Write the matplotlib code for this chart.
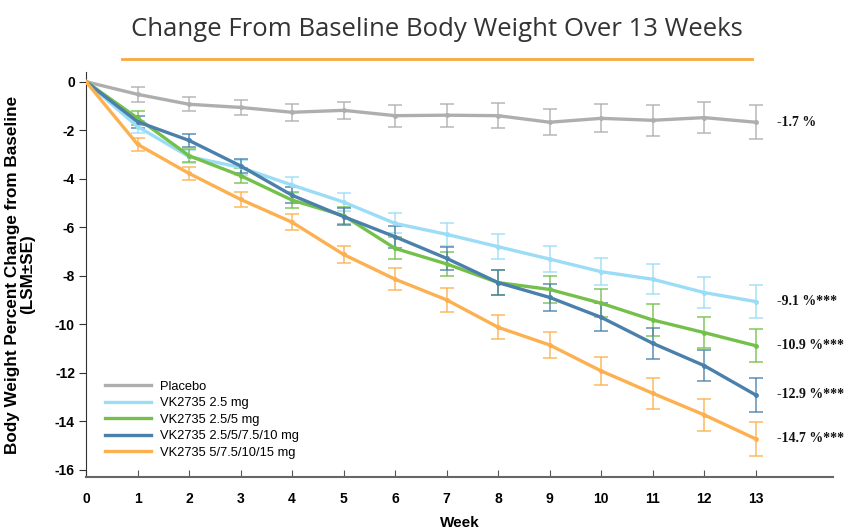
import matplotlib
matplotlib.use("Agg")
import matplotlib.pyplot as plt
import numpy as np

weeks = list(range(14))

series_names = ["Placebo", "VK2735 2.5 mg", "VK2735 2.5/5 mg",
                "VK2735 2.5/5/7.5/10 mg", "VK2735 5/7.5/10/15 mg"]
colors = ["#aeaeae", "#9bdcf6", "#74c04a", "#4a80ab", "#fdb04f"]

placebo = [0, -0.52, -0.93, -1.06, -1.26, -1.18, -1.40, -1.38, -1.40, -1.67, -1.51, -1.59, -1.48, -1.67]
vk25 = [0, -1.85, -3.09, -3.53, -4.26, -4.96, -5.84, -6.29, -6.80, -7.31, -7.83, -8.14, -8.69, -9.06]
vk25_5 = [0, -1.50, -3.05, -3.87, -4.88, -5.52, -6.87, -7.51, -8.28, -8.56, -9.13, -9.82, -10.34, -10.88]
vk25_10 = [0, -1.65, -2.42, -3.47, -4.68, -5.56, -6.39, -7.28, -8.28, -8.89, -9.71, -10.78, -11.70, -12.91]
vk5_15 = [0, -2.58, -3.78, -4.85, -5.79, -7.12, -8.14, -8.99, -10.12, -10.85, -11.92, -12.84, -13.73, -14.72]

se_placebo = [0, 0.30, 0.28, 0.30, 0.34, 0.36, 0.45, 0.48, 0.52, 0.53, 0.58, 0.64, 0.65, 0.69]
se_vk25 = [0, 0.25, 0.27, 0.30, 0.33, 0.38, 0.41, 0.46, 0.52, 0.52, 0.56, 0.62, 0.63, 0.67]
se_vk25_5 = [0, 0.30, 0.27, 0.30, 0.33, 0.36, 0.45, 0.49, 0.52, 0.55, 0.58, 0.64, 0.65, 0.68]
se_vk25_10 = [0, 0.25, 0.28, 0.30, 0.33, 0.36, 0.45, 0.48, 0.52, 0.54, 0.58, 0.63, 0.65, 0.69]
se_vk5_15 = [0, 0.27, 0.28, 0.30, 0.32, 0.36, 0.45, 0.49, 0.50, 0.54, 0.58, 0.63, 0.65, 0.69]

end_labels = ["-1.7 %", "-9.1 %***", "-10.9 %***", "-12.9 %***", "-14.7 %***"]

yticks = [0, -2, -4, -6, -8, -10, -12, -14, -16]
xticks = list(range(14))

means = [placebo, vk25, vk25_5, vk25_10, vk5_15]
ses = [se_placebo, se_vk25, se_vk25_5, se_vk25_10, se_vk5_15]

fig = plt.figure(figsize=(8.46, 5.31), dpi=100)
ax = fig.add_axes([86/846, 1-477/531, (833-86)/846, (477-72)/531])

for name, m, s, c in zip(series_names, means, ses, colors):
    ax.errorbar(weeks[1:], m[1:], yerr=s[1:], fmt="none", ecolor=c, alpha=0.75,
                elinewidth=1.3, capsize=5, capthick=1.3, zorder=2)
    ax.plot(weeks, m, color=c, lw=2.4, label=name, zorder=3, solid_joinstyle="round")
    ax.plot(weeks, m, color=c, lw=0, marker="o", markersize=2.5, zorder=3)

for lab, m, c in zip(end_labels, means, colors):
    ax.annotate(lab, xy=(weeks[-1], m[-1]), xytext=(15.5, 0), textcoords="offset points",
                va="center", ha="left", fontsize=10, fontweight="bold",
                family="Liberation Serif", color="#111111")

ax.set_xlim(0, 14.5)
ax.set_ylim(-16.29, 0.4)
ax.set_xticks(xticks)
ax.set_yticks(yticks)
ax.set_yticklabels([str(t) for t in yticks])
for lab in ax.get_xticklabels() + ax.get_yticklabels():
    lab.set_fontweight("bold")
    lab.set_family("Liberation Sans")
    lab.set_fontsize(10)
ax.tick_params(axis="x", direction="in", length=5, color="#555555", pad=11)
ax.tick_params(axis="y", direction="out", length=5, color="#333333", pad=3)
ax.spines["top"].set_visible(False)
ax.spines["right"].set_visible(False)
ax.spines["left"].set_color("#333333")
ax.spines["bottom"].set_color("#666666")
ax.spines["bottom"].set_linewidth(1.5)

ax.set_xlabel("Week", fontsize=11, fontweight="bold", family="Liberation Sans", labelpad=7)
ax.set_ylabel("Body Weight Percent Change from Baseline\n(LSM±SE)", fontsize=12.3,
              fontweight="bold", family="Liberation Sans", labelpad=14, linespacing=1.05)

leg = ax.legend(loc="upper left", bbox_to_anchor=(0.018, 0.25), frameon=False,
                prop={"family": "Liberation Sans", "size": 9.3}, handlelength=3.6,
                handletextpad=0.7, labelspacing=0.34, borderaxespad=0)

fig.text(437/846, 1-30/531, "Change From Baseline Body Weight Over 13 Weeks",
         ha="center", va="center", fontsize=18.5, family="Open Sans", color="#333333")
fig.add_artist(plt.Line2D([122/846, 752/846], [1-59/531, 1-59/531], color="#f9a83c", lw=2))

fig.savefig("out.png", dpi=100)
